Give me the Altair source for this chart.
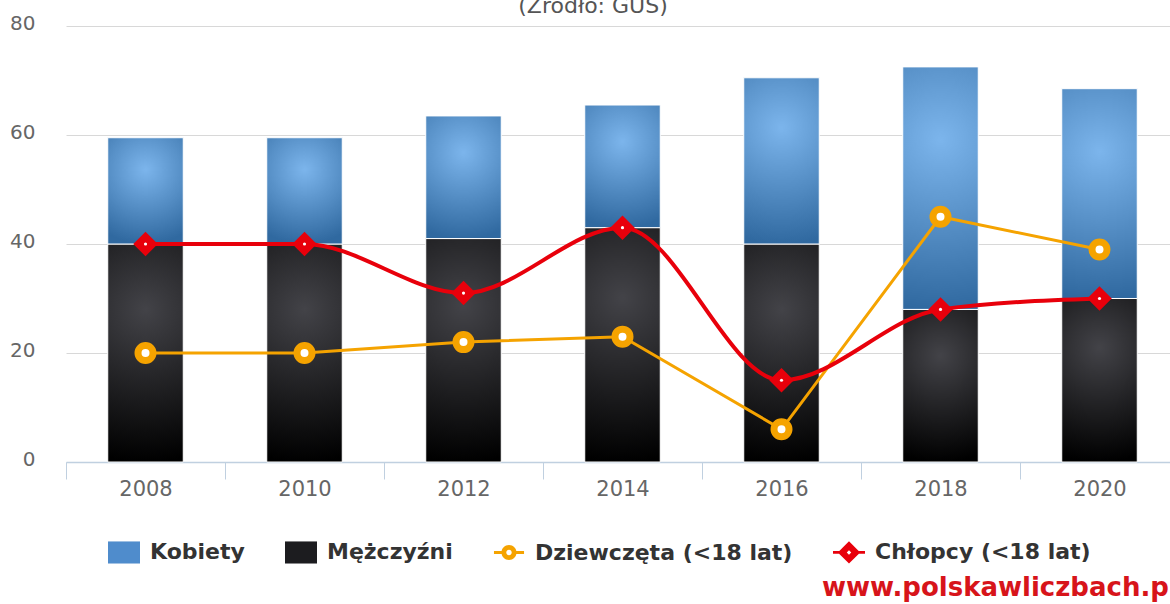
import altair as alt
import pandas as pd

# ---- data ----
YEARS = ["2008", "2010", "2012", "2014", "2016", "2018", "2020"]
MEN = [40, 40, 41, 43, 40, 28, 30]                  # Mężczyźni (bottom, black)
WOMEN = [19.5, 19.5, 22.5, 22.5, 30.5, 44.5, 38.5]  # Kobiety (top, blue)
GIRLS = [20, 20, 22, 23, 6, 45, 39]                 # Dziewczęta (<18 lat)
BOYS = [40, 40, 31, 43, 15, 28, 30]                 # Chłopcy (<18 lat)
SERIES = ["Kobiety", "Mężczyźni", "Dziewczęta (<18 lat)", "Chłopcy (<18 lat)"]
Y_TICKS = [0, 20, 40, 60, 80]
TITLE = ["(Źródło: GUS)"]
SOURCE = ["www.polskawliczbach.pl"]

# ---- styles ----
FONT = "DejaVu Sans"
ORANGE = "#f5a300"
RED = "#e8000b"
GRAD_BLUE = {"gradient": "radial", "x1": 0.5, "y1": 0.3, "r1": 0, "x2": 0.5, "y2": 0.3, "r2": 0.7,
             "stops": [{"offset": 0, "color": "#7cb5ec"}, {"offset": 1, "color": "#3069a0"}]}
GRAD_BLACK = {"gradient": "radial", "x1": 0.5, "y1": 0.3, "r1": 0, "x2": 0.5, "y2": 0.3, "r2": 0.7,
              "stops": [{"offset": 0, "color": "#434348"}, {"offset": 1, "color": "#000000"}]}

SYM_RECT = "M-1,-0.69H1V0.69H-1Z"
SYM_CIRCLE = ("M-0.94,-0.09H-0.44V0.09H-0.94Z M0.44,-0.09H0.94V0.09H0.44Z "
              "M0.47,0A0.47,0.47,0,1,1,-0.47,0A0.47,0.47,0,1,1,0.47,0Z "
              "M0.17,0A0.17,0.17,0,1,0,-0.17,0A0.17,0.17,0,1,0,0.17,0Z")
SYM_DIAMOND = ("M-1,-0.09H-0.6V0.09H-1Z M0.6,-0.09H1V0.09H0.6Z "
               "M0,-0.7L0.7,0L0,0.7L-0.7,0Z M0,-0.14L-0.14,0L0,0.14L0.14,0Z")

df = pd.DataFrame({"year": YEARS, "men": MEN, "women": WOMEN, "girls": GIRLS, "boys": BOYS})
df["total"] = df["men"] + df["women"]
legend_df = pd.DataFrame({"series": SERIES, "year": YEARS[0], "v": 0})

x_enc = alt.X("year:O", title=None, scale=alt.Scale(paddingInner=0, paddingOuter=0))
y_scale = alt.Scale(domain=[0, 80], nice=False)
y_axis = alt.Axis(values=Y_TICKS)


def Y(field):
    return alt.Y(field, title=None, scale=y_scale, axis=y_axis)


base = alt.Chart(df)
BAR_W = alt.RelativeBandSize(0.475)

men_bars = base.mark_bar(fill=GRAD_BLACK, stroke="white", strokeWidth=1, width=BAR_W).encode(
    x=x_enc, y=Y("men:Q"), y2=alt.datum(0))
women_bars = base.mark_bar(fill=GRAD_BLUE, stroke="white", strokeWidth=1, width=BAR_W).encode(
    x=x_enc, y=Y("total:Q"), y2="men:Q")

girls_line = base.mark_line(color=ORANGE, strokeWidth=3).encode(x=x_enc, y=Y("girls:Q"))
boys_line = base.mark_line(color=RED, strokeWidth=4, interpolate="monotone").encode(x=x_enc, y=Y("boys:Q"))

girls_pts = base.mark_point(shape="circle", size=225, fill="white", stroke=ORANGE,
                            strokeWidth=7, opacity=1, fillOpacity=1).encode(x=x_enc, y=Y("girls:Q"))
boys_pts = base.mark_point(shape="diamond", size=600, filled=True, color=RED, opacity=1).encode(
    x=x_enc, y=Y("boys:Q"))
boys_dot = base.mark_point(shape="circle", size=10, filled=True, color="white", opacity=1).encode(
    x=x_enc, y=Y("boys:Q"))

legend = alt.Legend(
    title=None, orient="none", direction="horizontal", legendX=42, legendY=510,
    symbolSize=1024, symbolOpacity=1, symbolStrokeWidth=0,
    labelFont=FONT, labelFontSize=22, labelFontWeight="bold", labelColor="#333333",
    labelOffset=10, columnPadding=40, labelLimit=0, padding=0,
)
legend_layer = alt.Chart(legend_df).mark_point(filled=True, opacity=0).encode(
    x=x_enc,
    y=Y("v:Q"),
    color=alt.Color("series:N", scale=alt.Scale(domain=SERIES, range=["#4f8ccc", "#1c1c1f", ORANGE, RED]),
                    legend=legend),
    shape=alt.Shape("series:N", scale=alt.Scale(domain=SERIES, range=[SYM_RECT, SYM_RECT, SYM_CIRCLE, SYM_DIAMOND]),
                    legend=legend),
)

title_layer = alt.Chart(pd.DataFrame({"t": TITLE})).mark_text(
    font=FONT, fontSize=22, color="#555555", align="center", baseline="alphabetic").encode(
    text="t:N", x=alt.value(527), y=alt.value(-13))
source_layer = alt.Chart(pd.DataFrame({"t": SOURCE})).mark_text(
    font=FONT, fontSize=26, fontWeight="bold", color="#d7141a", align="left", baseline="alphabetic").encode(
    text="t:N", x=alt.value(756), y=alt.value(570))

chart = alt.layer(
    men_bars, women_bars, girls_line, boys_line, girls_pts, boys_pts, boys_dot,
    legend_layer, title_layer, source_layer,
).properties(
    width=1113, height=436,
    autosize=alt.AutoSizeParams(type="none"),
    padding={"left": 66, "top": 26, "right": -9, "bottom": 142},
    background="white",
).configure_view(stroke=None).configure_axisX(
    domainColor="#c0d0e0", domainWidth=1.5, tickColor="#c0d0e0", tickSize=17, tickWidth=1,
    tickBand="extent", labelFont=FONT, labelFontSize=21, labelColor="#666666", labelAngle=0,
    labelPadding=10, labelBaseline="middle", grid=False,
).configure_axisY(
    domain=False, ticks=False, grid=True, gridColor="#d8d8d8", gridWidth=1,
    labelFont=FONT, labelFontSize=20, labelColor="#666666", labelPadding=31, labelOffset=-3,
)

chart.save("out.html", embed_options={"renderer": "svg", "actions": False})
